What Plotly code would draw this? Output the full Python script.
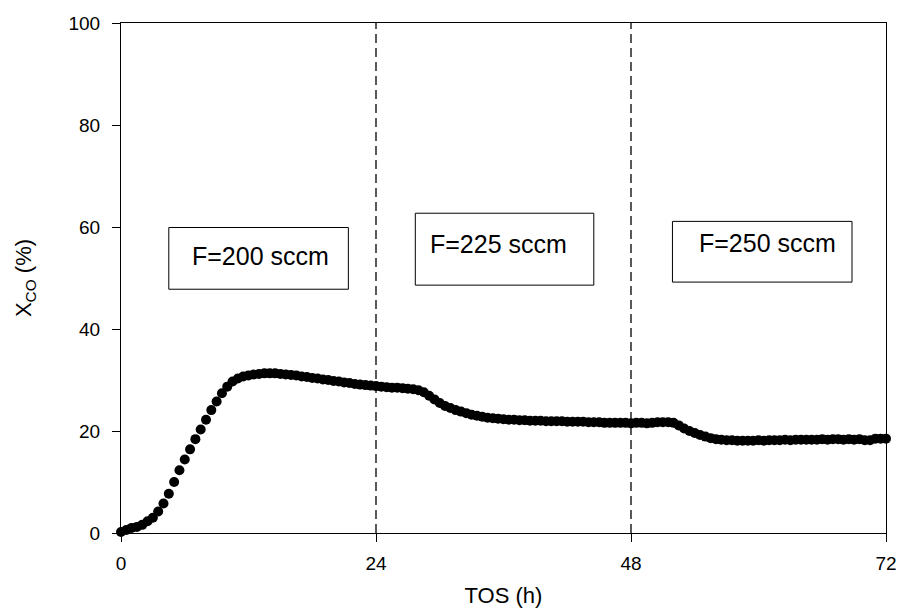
import plotly.graph_objects as go

# Time on stream (h), sampled every 0.5 h
tos = [i * 0.5 for i in range(145)]
xco = [
    0.2, 0.6, 1.0, 1.2, 1.6, 2.3, 3.0, 4.2, 5.8, 7.7,
    10.0, 12.3, 14.4, 16.4, 18.4, 20.3, 22.2, 24.1, 25.8, 27.4,
    28.7, 29.7, 30.3, 30.7, 30.9, 31.1, 31.2, 31.3, 31.3, 31.3,
    31.2, 31.1, 31.0, 30.9, 30.7, 30.6, 30.4, 30.3, 30.1, 30.0,
    29.8, 29.7, 29.5, 29.4, 29.2, 29.1, 29.0, 28.9, 28.8, 28.7,
    28.6, 28.5, 28.5, 28.4, 28.3, 28.2, 28.0, 27.6, 26.9, 26.2,
    25.5, 24.9, 24.5, 24.1, 23.8, 23.5, 23.2, 23.0, 22.8, 22.6,
    22.5, 22.4, 22.3, 22.2, 22.2, 22.1, 22.1, 22.0, 22.0, 22.0,
    21.9, 21.9, 21.9, 21.9, 21.8, 21.8, 21.8, 21.8, 21.7, 21.7,
    21.7, 21.6, 21.6, 21.6, 21.6, 21.6, 21.5, 21.6, 21.6, 21.5,
    21.6, 21.7, 21.7, 21.7, 21.6, 21.1, 20.5, 20.0, 19.6, 19.2,
    18.9, 18.6, 18.4, 18.3, 18.2, 18.2, 18.1, 18.1, 18.1, 18.1,
    18.2, 18.1, 18.2, 18.2, 18.2, 18.3, 18.2, 18.3, 18.3, 18.3,
    18.3, 18.3, 18.4, 18.3, 18.4, 18.4, 18.3, 18.4, 18.3, 18.4,
    18.2, 18.2, 18.5, 18.5, 18.5,
]

x_ticks = [0, 24, 48, 72]
y_ticks = [0, 20, 40, 60, 80, 100]
switch_times = [24, 48]

box_labels = ["F=200 sccm", "F=225 sccm", "F=250 sccm"]
box_x0 = [4.5, 27.7, 51.9]
box_x1 = [21.4, 44.5, 68.8]
box_y0 = [47.8, 48.6, 49.2]
box_y1 = [59.9, 62.7, 61.1]
label_x = [13.1, 35.5, 60.8]
label_y = [54.4, 56.6, 56.9]

FONT = "Liberation Sans, Arial, sans-serif"

fig = go.Figure()
fig.add_trace(go.Scatter(
    x=tos, y=xco, mode="markers",
    marker=dict(color="black", size=10, line=dict(width=0)),
    showlegend=False, cliponaxis=False,
))

for t in switch_times:
    fig.add_shape(type="line", x0=t, x1=t, y0=0, y1=100, xref="x", yref="y",
                  line=dict(color="black", width=1.3, dash="9px,5px"), layer="below")

for lab, x0, x1, y0, y1, lx, ly in zip(box_labels, box_x0, box_x1, box_y0, box_y1, label_x, label_y):
    fig.add_shape(type="rect", x0=x0, x1=x1, y0=y0, y1=y1, xref="x", yref="y",
                  line=dict(color="black", width=1), fillcolor="white", layer="below")
    fig.add_annotation(x=lx, y=ly, xref="x", yref="y", text=lab, showarrow=False,
                       font=dict(family=FONT, size=25, color="black"))

fig.update_layout(
    width=901, height=615,
    margin=dict(l=121, r=15, t=23, b=82),
    paper_bgcolor="white", plot_bgcolor="white",
    font=dict(family=FONT, color="black"),
)
fig.update_xaxes(
    range=[0, 72], tickvals=x_ticks, ticktext=[str(v) for v in x_ticks],
    ticks="outside", ticklen=8, tickwidth=1, tickcolor="black",
    showline=True, linecolor="black", linewidth=1, mirror=True,
    showgrid=False, zeroline=False, automargin=False,
    tickfont=dict(family=FONT, size=19), ticklabelstandoff=5,
    title=dict(text="TOS (h)", font=dict(family=FONT, size=22), standoff=14),
)
fig.update_yaxes(
    range=[0, 100], tickvals=y_ticks, ticktext=[str(v) for v in y_ticks],
    ticks="outside", ticklen=8, tickwidth=1, tickcolor="black",
    showline=True, linecolor="black", linewidth=1, mirror=True,
    showgrid=False, zeroline=False, automargin=False,
    tickfont=dict(family=FONT, size=19), ticklabelstandoff=8,
    title=dict(text="X<sub>CO</sub> (%)", font=dict(family=FONT, size=22), standoff=30),
)

fig.write_html("out.html")
